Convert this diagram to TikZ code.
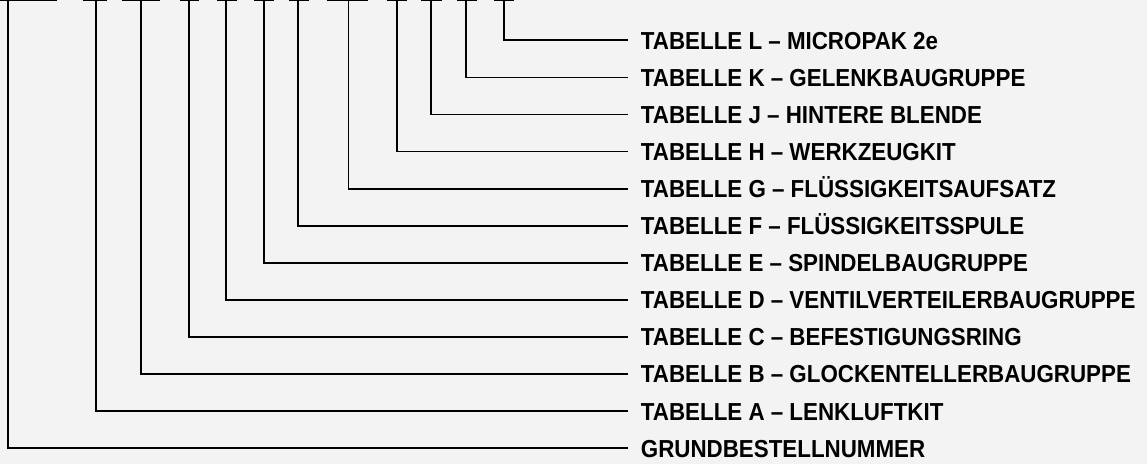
\documentclass[tikz,border=0pt]{standalone}
\usepackage{fontspec}
\setmainfont{Liberation Sans}
\newcommand{\tall}[1]{\scalebox{1}[1.1]{#1}}
\begin{document}
\begin{tikzpicture}[x=1pt,y=-1pt,
  wire/.style={line width=1.8pt,black},
  bar/.style={line width=2.4pt,black},
  lbl/.style={anchor=west,inner xsep=13pt,inner ysep=0pt,text height=17.9pt,text depth=0pt,
    font=\fontsize{22.35}{26}\selectfont\bfseries}]
\fill[fill={rgb,255:red,243;green,243;blue,243}] (0,0) rectangle (1147,464);
\useasboundingbox (0,0) rectangle (1147,464);
% label column
\def\lx{627.7}
\node[lbl] (L) at (\lx,40.3) {\tall{TABELLE L – MICROPAK 2e}};
\node[lbl] (K) at (\lx,77.4) {\tall{TABELLE K – GELENKBAUGRUPPE}};
\node[lbl] (J) at (\lx,114.5) {\tall{TABELLE J – HINTERE BLENDE}};
\node[lbl] (H) at (\lx,151.5) {\tall{TABELLE H – WERKZEUGKIT}};
\node[lbl] (G) at (\lx,188.6) {\tall{TABELLE G – FLÜSSIGKEITSAUFSATZ}};
\node[lbl] (F) at (\lx,225.7) {\tall{TABELLE F – FLÜSSIGKEITSSPULE}};
\node[lbl] (E) at (\lx,262.8) {\tall{TABELLE E – SPINDELBAUGRUPPE}};
\node[lbl] (D) at (\lx,299.9) {\tall{TABELLE D – VENTILVERTEILERBAUGRUPPE}};
\node[lbl] (C) at (\lx,337.0) {\tall{TABELLE C – BEFESTIGUNGSRING}};
\node[lbl] (B) at (\lx,374.0) {\tall{TABELLE B – GLOCKENTELLERBAUGRUPPE}};
\node[lbl] (A) at (\lx,411.1) {\tall{TABELLE A – LENKLUFTKIT}};
\node[lbl] (N) at (\lx,448.2) {\tall{GRUNDBESTELLNUMMER}};
% tops of the leaders (bottom edges of the order-code fields)
\coordinate (tL) at (503.6,0); \coordinate (tK) at (466,0); \coordinate (tJ) at (431,0);
\coordinate (tH) at (396.7,0); \coordinate (tG) at (348.5,0); \coordinate (tF) at (298,0);
\coordinate (tE) at (263.6,0); \coordinate (tD) at (226,0); \coordinate (tC) at (189,0);
\coordinate (tB) at (141,0); \coordinate (tA) at (95.7,0); \coordinate (tN) at (7.8,0);
% field edges
\foreach \a/\b in {0/57,83/107,122/160,180/199,217/237,254/274,289/309,327/368,387/407,421/442,457/477,494/514}
  \draw[bar] (\a,0) -- (\b,0);
% leaders
\foreach \n in {L,K,J,H,G,F,E,D,C,B,A,N}
  \draw[wire] (t\n) |- (\n.west);
\end{tikzpicture}
\end{document}
